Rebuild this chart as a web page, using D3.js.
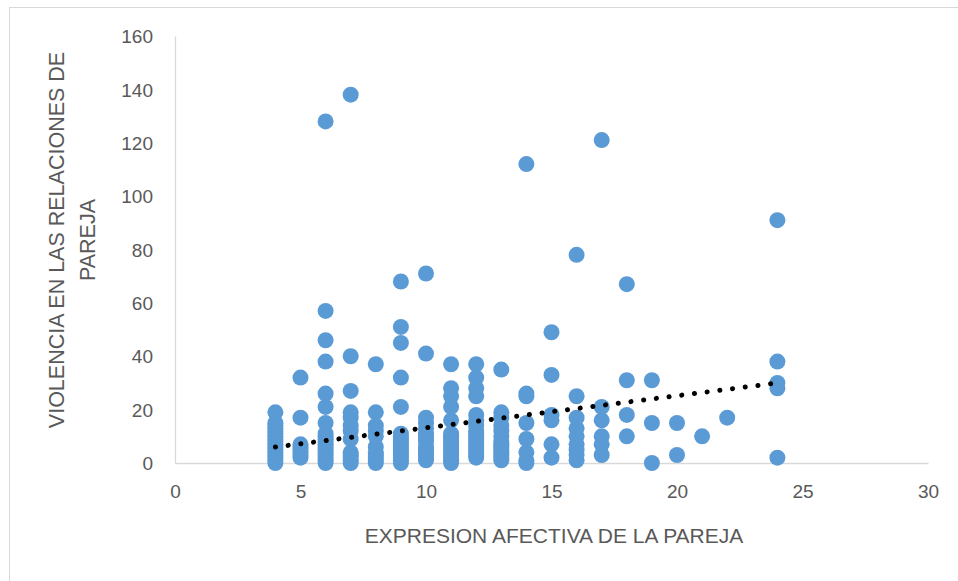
<!DOCTYPE html>
<html lang="es">
<head>
<meta charset="UTF-8">
<title>Expresion afectiva vs violencia</title>
<script src="https://cdn.jsdelivr.net/npm/d3@7"></script>
<style>
    body { margin: 0; background: #fff; }
    text { font-family: "Liberation Sans Narrow", "Liberation Sans", sans-serif; fill: #595959; }
</style>
</head>
<body>
<svg id="chart" width="958" height="581"></svg>
<script>
// x values (one per column) and the y values for each column
var columnX = [4, 5, 6, 7, 8, 9, 10, 11, 12, 13, 14, 15, 16, 17, 18, 19, 20, 21, 22, 24];
var columnY = [
    [19, 15, 14, 13, 12, 11, 10, 9, 8, 7, 6, 5, 4, 3, 2, 1, 0],
    [32, 17, 7, 6, 5, 4, 3, 2],
    [128, 57, 46, 38, 26, 21, 15, 11, 10, 9, 8, 7, 6, 5, 4, 3, 2, 1, 0],
    [138, 40, 27, 19, 17, 14, 12, 9, 4, 3, 2, 1, 0],
    [37, 19, 14, 12, 10, 6, 4, 3, 2, 1, 0],
    [68, 51, 45, 32, 21, 11, 10, 9, 8, 7, 6, 5, 4, 3, 2, 1, 0],
    [71, 41, 17, 15, 13, 11, 10, 9, 8, 6, 5, 4, 3, 2, 1],
    [37, 28, 25, 21, 16, 11, 10, 9, 8, 7, 6, 5, 4, 3, 2, 1, 0],
    [37, 32, 28, 25, 18, 16, 14, 12, 11, 10, 9, 8, 7, 6, 5, 4, 3, 2],
    [35, 19, 17, 14, 12, 10, 8, 7, 6, 5, 4, 3, 2, 1],
    [112, 26, 25, 15, 9, 4, 1, 0],
    [49, 33, 18, 16, 7, 2],
    [78, 25, 17, 13, 10, 7, 5, 3, 1],
    [121, 21, 16, 10, 7, 3],
    [67, 31, 18, 10],
    [31, 15, 0],
    [15, 3],
    [10],
    [17],
    [91, 38, 30, 28, 2]
];
// dotted linear trend line, end points
var trendX = [4, 24];
var trendY = [6, 30];

var xTicks = [0, 5, 10, 15, 20, 25, 30];
var yTicks = [0, 20, 40, 60, 80, 100, 120, 140, 160];

var svg = d3.select("#chart");
var margin = {top: 36, left: 175, right: 30, bottom: 118};
var width = 958 - margin.left - margin.right,
    height = 581 - margin.top - margin.bottom;

// outer chart frame (right and bottom edges run off the picture)
svg.append("rect")
    .attr("x", 9.5).attr("y", 7.5)
    .attr("width", 960).attr("height", 590)
    .attr("fill", "none")
    .attr("stroke", "#d9d9d9");

var x = d3.scaleLinear().domain([0, 30]).range([0, width]);
var y = d3.scaleLinear().domain([0, 160]).range([height, 0]);

var g = svg.append("g")
    .attr("transform", "translate(" + margin.left + "," + margin.top + ")");

var xAxis = g.append("g")
    .attr("transform", "translate(0," + height + ")")
    .call(d3.axisBottom(x).tickValues(xTicks).tickSize(0).tickPadding(22));
var yAxis = g.append("g")
    .call(d3.axisLeft(y).tickValues(yTicks).tickSize(0).tickPadding(22));

[xAxis, yAxis].forEach(function(a) {
    a.select(".domain").attr("stroke", "#d9d9d9").attr("stroke-width", 1.3);
    a.selectAll("text").style("font-size", "19px").attr("fill", "#595959");
});
yAxis.selectAll("text").attr("dy", "0.35em");

var points = [];
columnX.forEach(function(cx, i) {
    columnY[i].forEach(function(v) { points.push({x: cx, y: v}); });
});

g.selectAll(".dot")
    .data(points)
    .enter().append("circle")
    .attr("class", "dot")
    .attr("cx", function(d) { return x(d.x); })
    .attr("cy", function(d) { return y(d.y); })
    .attr("r", 8)
    .attr("fill", "#5b9bd5");

g.append("line")
    .attr("x1", x(trendX[0])).attr("y1", y(trendY[0]))
    .attr("x2", x(trendX[1])).attr("y2", y(trendY[1]))
    .attr("stroke", "#000")
    .attr("stroke-width", 5)
    .attr("stroke-linecap", "round")
    .attr("stroke-dasharray", "0.1 12.7");

// axis titles
svg.append("text")
    .attr("x", margin.left + x(15.1))
    .attr("y", 543)
    .attr("text-anchor", "middle")
    .style("font-size", "21px")
    .text("EXPRESION AFECTIVA DE LA PAREJA");

var yt = svg.append("text")
    .attr("transform", "translate(64,240) rotate(-90)")
    .attr("text-anchor", "middle")
    .style("font-size", "21.5px");
yt.append("tspan").attr("x", 0).attr("dy", 0).text("VIOLENCIA EN LAS RELACIONES DE");
yt.append("tspan").attr("x", 0).attr("dy", "1.42em").text("PAREJA");
</script>
</body>
</html>
